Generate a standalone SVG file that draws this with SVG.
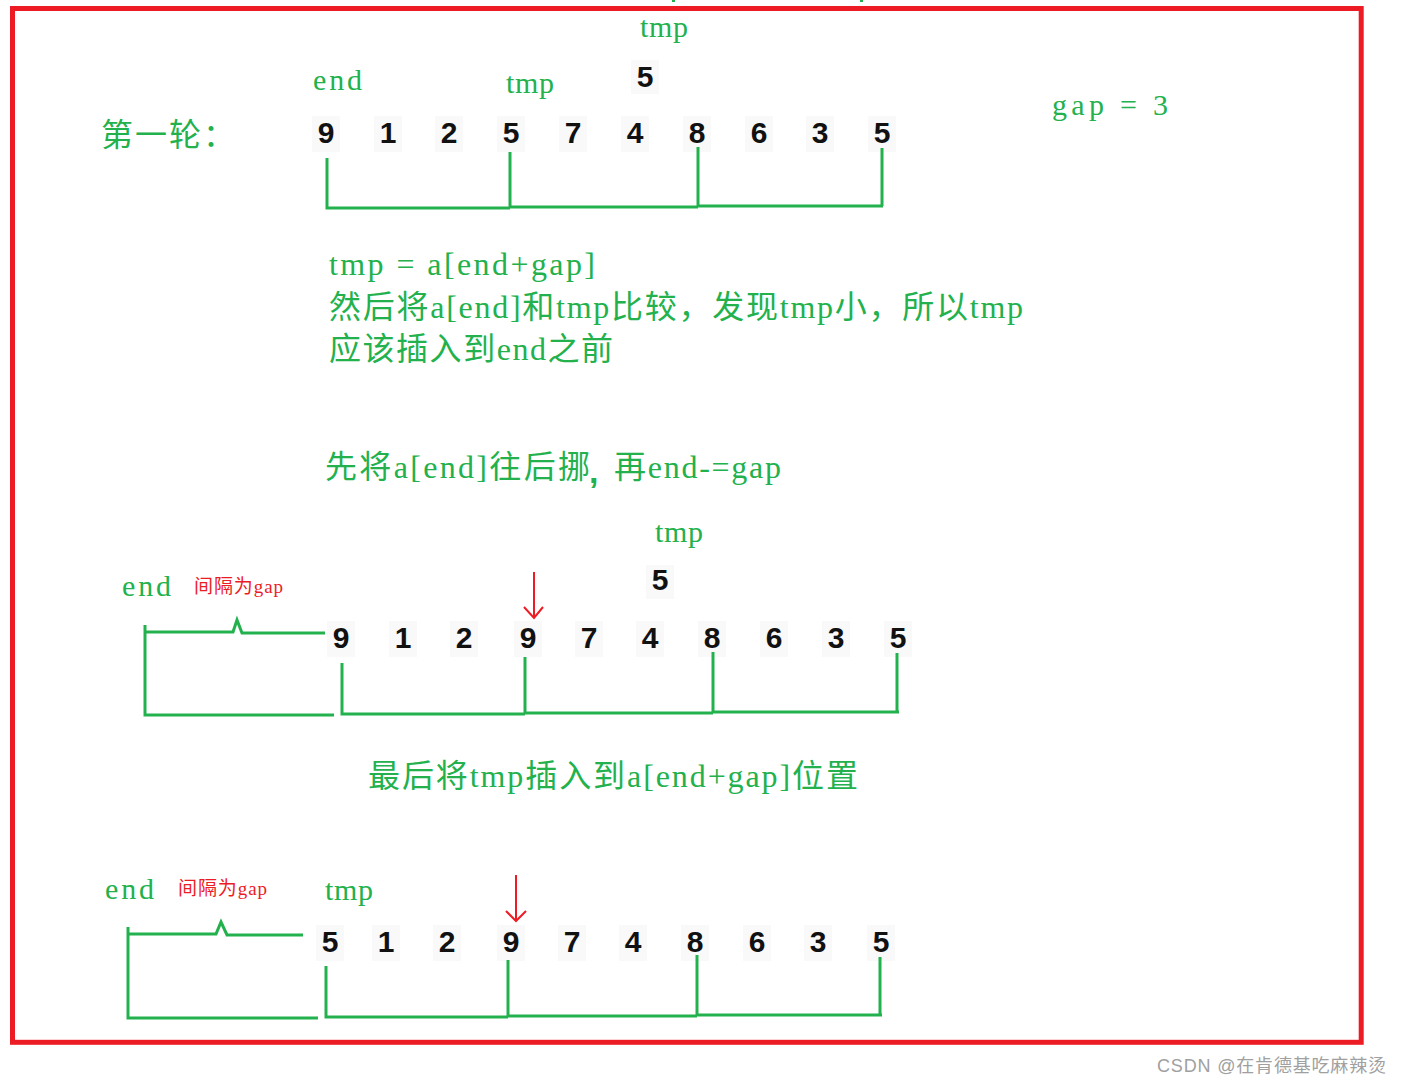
<svg xmlns="http://www.w3.org/2000/svg" width="1403" height="1085" viewBox="0 0 1403 1085">
<style>
.frame{fill:none;stroke:#ED1C24;stroke-width:5}
.g{fill:#22B14C;font-family:"Liberation Serif","Noto Sans CJK SC",serif}
.lbl{font-size:30px}
.body{font-size:32px}
.num{font-family:"Liberation Sans",Arial,sans-serif;font-weight:bold;font-size:30px;fill:#111;text-anchor:middle}
.bg{fill:#f9f9f9}
.red{fill:#ED1C24;font-family:"Liberation Serif","Noto Sans CJK SC",serif;font-size:19px}
.ln{fill:none;stroke:#22B14C;stroke-width:3}
.arr{fill:none;stroke:#ED1C24;stroke-width:2}
.wm{fill:#a0a0a0;font-family:"Liberation Sans","Noto Sans CJK SC",sans-serif;font-size:18px}
</style>
<rect width="1403" height="1085" fill="#fff"/>
<rect x="672" y="0" width="3" height="2" fill="#22B14C"/>
<rect x="860" y="0" width="3" height="2" fill="#22B14C"/>
<rect class="frame" x="12.5" y="8.5" width="1348.7" height="1033.8"/>

<g id="round1">
  <text class="g body" x="101" y="146" letter-spacing="2">第一轮：</text>
  <text class="g lbl" x="313" y="90" textLength="49">end</text>
  <text class="g lbl" x="506" y="93" textLength="48">tmp</text>
  <text class="g lbl" x="640" y="37" textLength="48">tmp</text>
  <text class="g lbl" x="1052" y="115" textLength="116" lengthAdjust="spacing">gap = 3</text>
  <rect class="bg" x="631" y="60" width="28" height="34"/>
  <text class="num" x="645" y="87">5</text>
  <g id="row1">
    <rect class="bg" x="312" y="116" width="28" height="36"/>
    <rect class="bg" x="374" y="116" width="28" height="36"/>
    <rect class="bg" x="435" y="116" width="28" height="36"/>
    <rect class="bg" x="497" y="116" width="28" height="36"/>
    <rect class="bg" x="559" y="116" width="28" height="36"/>
    <rect class="bg" x="621" y="116" width="28" height="36"/>
    <rect class="bg" x="683" y="116" width="28" height="36"/>
    <rect class="bg" x="745" y="116" width="28" height="36"/>
    <rect class="bg" x="806" y="116" width="28" height="36"/>
    <rect class="bg" x="868" y="116" width="28" height="36"/>
    <text class="num" x="326" y="143">9</text>
    <text class="num" x="388" y="143">1</text>
    <text class="num" x="449" y="143">2</text>
    <text class="num" x="511" y="143">5</text>
    <text class="num" x="573" y="143">7</text>
    <text class="num" x="635" y="143">4</text>
    <text class="num" x="697" y="143">8</text>
    <text class="num" x="759" y="143">6</text>
    <text class="num" x="820" y="143">3</text>
    <text class="num" x="882" y="143">5</text>
  </g>
</g>

<g id="explain">
  <text class="g body" x="329" y="275" textLength="266" lengthAdjust="spacing">tmp = a[end+gap]</text>
  <text class="g body" x="329" y="318" textLength="694" lengthAdjust="spacing">然后将a[end]和tmp比较，发现tmp小，所以tmp</text>
  <text class="g body" x="329" y="360" textLength="284" lengthAdjust="spacing">应该插入到end之前</text>
  <text class="g body" x="325" y="478" textLength="265" lengthAdjust="spacing">先将a[end]往后挪</text>
  <text x="589" y="483" style="fill:#22B14C;font-family:'Liberation Sans',sans-serif;font-weight:bold;font-size:34px">,</text>
  <text class="g body" x="614" y="478" textLength="167" lengthAdjust="spacing">再end-=gap</text>
</g>

<g id="round1-step2">
  <text class="g lbl" x="655" y="542" textLength="48">tmp</text>
  <rect class="bg" x="646" y="565" width="28" height="34"/>
  <text class="num" x="660" y="590">5</text>
  <text class="g lbl" x="122" y="596" textLength="49">end</text>
  <text class="red" x="194" y="593" textLength="89" lengthAdjust="spacing">间隔为gap</text>
  <g id="row2">
    <rect class="bg" x="327" y="621" width="28" height="36"/>
    <rect class="bg" x="389" y="621" width="28" height="36"/>
    <rect class="bg" x="450" y="621" width="28" height="36"/>
    <rect class="bg" x="514" y="621" width="28" height="36"/>
    <rect class="bg" x="575" y="621" width="28" height="36"/>
    <rect class="bg" x="636" y="621" width="28" height="36"/>
    <rect class="bg" x="698" y="621" width="28" height="36"/>
    <rect class="bg" x="760" y="621" width="28" height="36"/>
    <rect class="bg" x="822" y="621" width="28" height="36"/>
    <rect class="bg" x="884" y="621" width="28" height="36"/>
    <text class="num" x="341" y="648">9</text>
    <text class="num" x="403" y="648">1</text>
    <text class="num" x="464" y="648">2</text>
    <text class="num" x="528" y="648">9</text>
    <text class="num" x="589" y="648">7</text>
    <text class="num" x="650" y="648">4</text>
    <text class="num" x="712" y="648">8</text>
    <text class="num" x="774" y="648">6</text>
    <text class="num" x="836" y="648">3</text>
    <text class="num" x="898" y="648">5</text>
  </g>
  <text class="g body" x="368" y="787" textLength="490" lengthAdjust="spacing">最后将tmp插入到a[end+gap]位置</text>
</g>

<g id="round1-step3">
  <text class="g lbl" x="105" y="899" textLength="49">end</text>
  <text class="red" x="178" y="895" textLength="89" lengthAdjust="spacing">间隔为gap</text>
  <text class="g lbl" x="325" y="900" textLength="48">tmp</text>
  <g id="row3">
    <rect class="bg" x="316" y="925" width="28" height="36"/>
    <rect class="bg" x="372" y="925" width="28" height="36"/>
    <rect class="bg" x="433" y="925" width="28" height="36"/>
    <rect class="bg" x="497" y="925" width="28" height="36"/>
    <rect class="bg" x="558" y="925" width="28" height="36"/>
    <rect class="bg" x="619" y="925" width="28" height="36"/>
    <rect class="bg" x="681" y="925" width="28" height="36"/>
    <rect class="bg" x="743" y="925" width="28" height="36"/>
    <rect class="bg" x="804" y="925" width="28" height="36"/>
    <rect class="bg" x="867" y="925" width="28" height="36"/>
    <text class="num" x="330" y="952">5</text>
    <text class="num" x="386" y="952">1</text>
    <text class="num" x="447" y="952">2</text>
    <text class="num" x="511" y="952">9</text>
    <text class="num" x="572" y="952">7</text>
    <text class="num" x="633" y="952">4</text>
    <text class="num" x="695" y="952">8</text>
    <text class="num" x="757" y="952">6</text>
    <text class="num" x="818" y="952">3</text>
    <text class="num" x="881" y="952">5</text>
  </g>
</g>

<g id="connectors">
  <path class="ln" d="M327 158V208H510M510 152V207H698M698 147V206H883M882 148V206"/>
  <path class="ln" d="M145 625V715H334M145 632H233L237 620L242 633H325"/>
  <path class="ln" d="M342 663V714H525M525 657V713H713M713 652V712H899M897 653V712"/>
  <path class="arr" d="M534 572V618M524 607L534 618L543 607"/>
  <path class="ln" d="M128 927V1018H318M128 934H216L221 922L227 935H303"/>
  <path class="ln" d="M326 966V1017H508M508 960V1016H697M697 955V1015H882M880 957V1014"/>
  <path class="arr" d="M516 875V921M506 911L516 921L526 911"/>
</g>

<text class="wm" x="1157" y="1072" textLength="229" lengthAdjust="spacing">CSDN @在肯德基吃麻辣烫</text>
</svg>
